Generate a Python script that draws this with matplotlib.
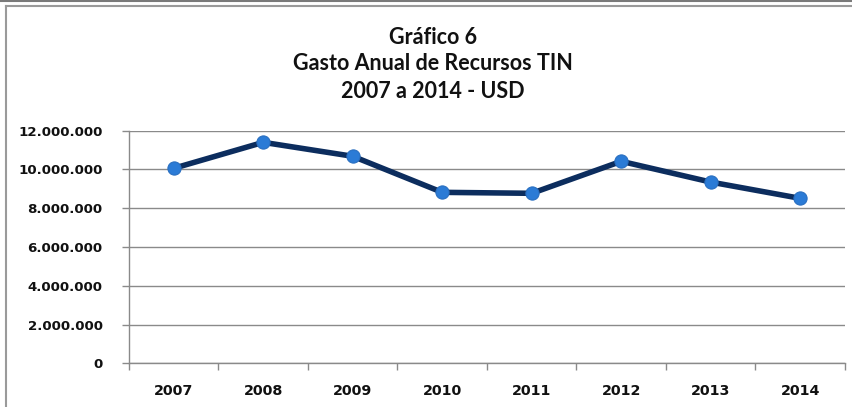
import matplotlib.pyplot as plt
from matplotlib.lines import Line2D
from matplotlib.ticker import FuncFormatter, FixedLocator

YEARS = ["2007", "2008", "2009", "2010", "2011", "2012", "2013", "2014"]
GASTO = [10060000, 11400000, 10680000, 8820000, 8770000, 10420000, 9350000, 8510000]
Y_TICKS = [0, 2000000, 4000000, 6000000, 8000000, 10000000, 12000000]

LINE_COLOR = "#0c2d5e"
MARKER_COLOR = "#2b7bd6"
GRID_COLOR = "#8a8a8a"
TITLE_FONT = "Lato"
TICK_FONT = "DejaVu Sans"


def _thousands(v, _pos):
    return f"{int(v):,}".replace(",", ".")


fig = plt.figure(figsize=(8.53, 4.07), dpi=100)
ax = fig.add_axes([129 / 853, 1 - 363.3 / 407, (845 - 129) / 853, (363.3 - 130.7) / 407])

x = list(range(len(YEARS)))
ax.plot(x, GASTO, color=LINE_COLOR, linewidth=4.0, marker="o", markersize=9.5,
        markerfacecolor=MARKER_COLOR, markeredgecolor="#2a6fc0", markeredgewidth=0.8,
        solid_capstyle="round", zorder=3)

ax.set_xlim(-0.5, len(YEARS) - 0.5)
ax.set_ylim(0, 12000000)
ax.set_yticks(Y_TICKS)
ax.yaxis.set_major_formatter(FuncFormatter(_thousands))
ax.set_xticks(x)
ax.set_xticklabels(YEARS)
ax.xaxis.set_minor_locator(FixedLocator([i - 0.5 for i in range(len(YEARS) + 1)]))

ax.grid(axis="y", color=GRID_COLOR, linewidth=1.0)
ax.set_axisbelow(True)
for side in ("top", "right"):
    ax.spines[side].set_visible(False)
for side in ("left", "bottom"):
    ax.spines[side].set_color(GRID_COLOR)
    ax.spines[side].set_linewidth(1.0)

ax.tick_params(axis="x", which="major", length=0, pad=15)
ax.tick_params(axis="x", which="minor", length=5, color=GRID_COLOR, width=1.0)
ax.tick_params(axis="y", length=5, color=GRID_COLOR, width=1.0, pad=14)
for lab in ax.get_xticklabels():
    lab.set_fontfamily(TICK_FONT)
    lab.set_fontweight("bold")
    lab.set_fontsize(10.3)
    lab.set_color("#111111")
for lab in ax.get_yticklabels():
    lab.set_fontfamily(TICK_FONT)
    lab.set_fontweight("bold")
    lab.set_fontsize(9.6)
    lab.set_color("#111111")

title_lines = ["Gráfico 6", "Gasto Anual de Recursos TIN", "2007 a 2014 - USD"]
for i, line in enumerate(title_lines):
    fig.text(433 / 853, 1 - (37 + 27 * i) / 407, line, ha="center", va="center",
             fontsize=15.5, fontweight="bold", fontfamily=TITLE_FONT, color="#111111")

# chart frame (cropped screenshot)
fig.add_artist(Line2D([0, 1], [1 - 0.6 / 407, 1 - 0.6 / 407], color="#7a7a7a", linewidth=1.5))
fig.add_artist(Line2D([6.5 / 853, 1], [1 - 5.5 / 407, 1 - 5.5 / 407], color="#9a9a9a", linewidth=1.5))
fig.add_artist(Line2D([6.5 / 853, 6.5 / 853], [0, 1 - 5.5 / 407], color="#9a9a9a", linewidth=1.5))

fig.savefig("out.png", dpi=100)
